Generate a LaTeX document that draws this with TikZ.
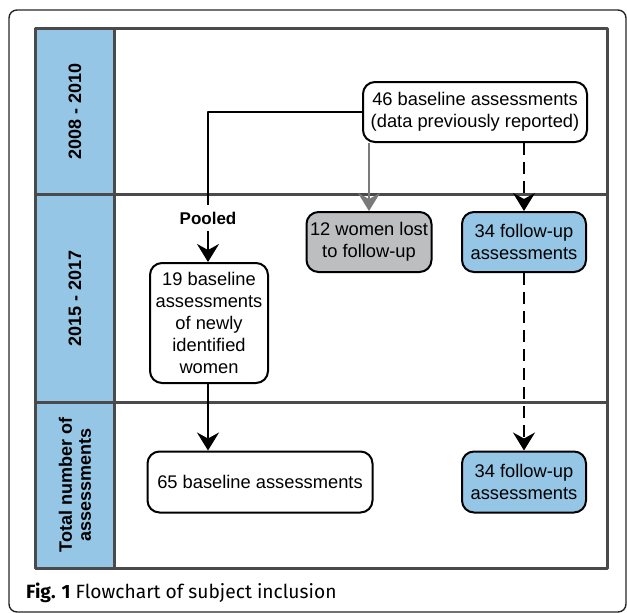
\documentclass[tikz,border=0pt]{standalone}
\usepackage{fontspec}
\setmainfont{Liberation Sans}
\newfontfamily\capfont{Fira Sans}
\usetikzlibrary{arrows.meta}
\definecolor{lblue}{HTML}{96C6E6}
\definecolor{lgray}{HTML}{BDBEC0}
\definecolor{tgray}{HTML}{4A4A4A}
\definecolor{agray}{HTML}{7A7A7A}
\tikzset{
	box/.style={draw=black, line width=2pt, rounded corners=12pt, align=center, inner sep=0pt, font=\fontsize{18.3}{22}\selectfont},
	rowlab/.style={rotate=90, align=center, font=\bfseries\fontsize{18}{19}\selectfont},
	tline/.style={draw=tgray, line width=3pt},
	conn/.style={line width=2pt, -{Stealth[length=18pt,width=22pt,inset=6pt]}},
}
\begin{document}
\begin{tikzpicture}[x=1pt, y=-1pt, line join=round]
	\useasboundingbox (0,0) rectangle (627,613);
	% outer frame
	\draw[line width=1.4pt, draw=black!85, rounded corners=8pt] (9,10) rectangle (626,612);
	% table
	\fill[lblue] (35,28) rectangle (114,568);
	\draw[tline] (35,28) rectangle (607,568);
	\draw[tline] (114,28) -- (114,568) (35,194) -- (607,194) (35,402) -- (607,402);
	\node[rowlab] (r1) at (75,111) {2008 - 2010};
	\node[rowlab] (r2) at (75,298) {2015 - 2017};
	\node[rowlab] (r3) at (75,485) {Total number of\\assessments};
	% boxes
	\node[box, fill=white, minimum width=224pt, minimum height=60pt] (b46) at (475,112) {46 baseline assessments\\(data previously reported)};
	\node[box, fill=lgray, minimum width=125pt, minimum height=60pt] (b12) at (369,242) {12 women lost\\to follow-up};
	\node[box, fill=lblue, minimum width=124pt, minimum height=60pt] (fu1) at (524,242) {34 follow-up\\assessments};
	\node[font=\bfseries\fontsize{17}{19}\selectfont, inner sep=7pt] (pool) at (208,218) {Pooled};
	\node[box, fill=white, minimum width=118pt, minimum height=120pt] (b19) at (209,323) {19 baseline\\assessments\\of newly\\identified\\women};
	\node[box, fill=white, minimum width=225pt, minimum height=61pt] (b65) at (260,482) {65 baseline assessments};
	\node[box, fill=lblue, minimum width=124pt, minimum height=61pt] (fu2) at (524,482) {34 follow-up\\assessments};
	% connectors
	\draw[line width=2pt] (b46.west) -| (pool.north);
	\draw[conn] (pool.south) -- (b19.north -| pool.south);
	\draw[conn] (b19.south -| pool.south) -- (b65.north -| pool.south);
	\draw[conn, draw=agray, fill=agray] (b12.north |- b46.south) -- (b12.north);
	\draw[conn, dash pattern=on 12pt off 7pt] (fu1.north |- b46.south) -- (fu1.north);
	\draw[conn, dash pattern=on 12pt off 7pt] (fu1.south) -- (fu2.north);
	% caption
	\node[anchor=base west, inner sep=0pt, font=\capfont\fontsize{19.2}{21}\selectfont] (cap) at (26,598) {\textbf{Fig. 1} Flowchart of subject inclusion};
\end{tikzpicture}
\end{document}
